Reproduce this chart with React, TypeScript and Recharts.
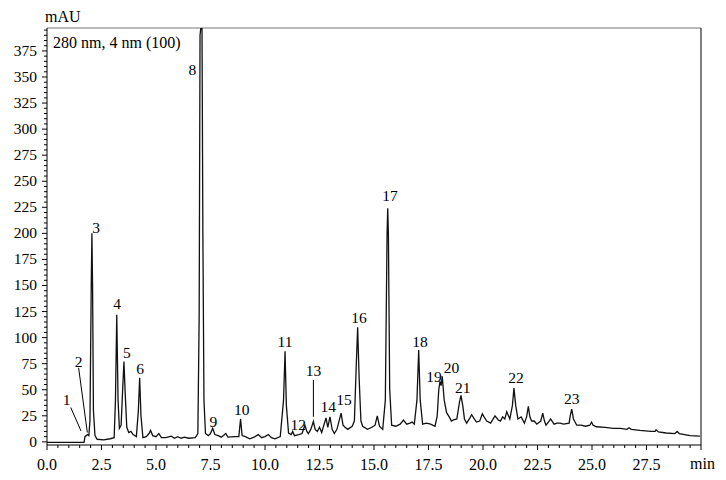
import { ComposedChart, Line, Scatter, XAxis, YAxis, ReferenceLine } from "recharts";

// retention time (min) and absorbance (mAU)
const times = [
  0.0, 1.7, 1.74, 1.8, 1.86, 1.92, 1.97, 2.03, 2.06, 2.09, 2.13, 2.2, 2.3, 2.6, 2.9, 3.08, 3.14, 3.2, 3.26, 3.32,
  3.4, 3.47, 3.53, 3.59, 3.66, 3.75, 3.85, 3.95, 4.1, 4.19, 4.25, 4.31, 4.4, 4.55, 4.68, 4.75, 4.85, 5.0, 5.13, 5.25,
  5.45, 5.7, 5.85, 6.0, 6.15, 6.3, 6.5, 6.8, 6.92, 6.98, 7.02, 7.06, 7.11, 7.15, 7.2, 7.27, 7.4, 7.5, 7.6, 7.7,
  7.85, 8.0, 8.2, 8.3, 8.6, 8.8, 8.88, 8.95, 9.1, 9.3, 9.5, 9.69, 9.85, 10.0, 10.15, 10.3, 10.45, 10.7, 10.85, 10.92,
  10.98, 11.08, 11.2, 11.27, 11.35, 11.55, 11.7, 11.83, 11.92, 11.99, 12.1, 12.22, 12.3, 12.4, 12.5, 12.6, 12.8, 12.88, 12.98, 13.08,
  13.18, 13.3, 13.49, 13.58, 13.67, 13.8, 14.0, 14.1, 14.18, 14.25, 14.32, 14.4, 14.48, 14.7, 14.9, 15.05, 15.15, 15.25, 15.4, 15.52,
  15.6, 15.63, 15.66, 15.72, 15.81, 16.0, 16.2, 16.35, 16.5, 16.65, 16.75, 16.85, 16.97, 17.05, 17.12, 17.23, 17.4, 17.6, 17.8, 17.9,
  17.97, 18.03, 18.08, 18.13, 18.22, 18.33, 18.45, 18.55, 18.65, 18.8, 18.92, 18.99, 19.07, 19.15, 19.25, 19.4, 19.48, 19.6, 19.7, 19.85,
  19.97, 20.05, 20.17, 20.35, 20.55, 20.7, 20.8, 20.9, 21.0, 21.09, 21.23, 21.35, 21.42, 21.5, 21.6, 21.75, 21.9, 22.0, 22.08, 22.15,
  22.23, 22.35, 22.47, 22.65, 22.74, 22.82, 22.89, 23.0, 23.1, 23.26, 23.4, 23.53, 23.7, 23.95, 24.0, 24.07, 24.15, 24.3, 24.5, 24.7,
  24.9, 24.98, 25.05, 25.2, 25.6, 25.98, 26.3, 26.6, 26.7, 26.8, 27.2, 27.7, 27.9, 27.94, 28.05, 28.4, 28.8, 28.91, 29.0, 29.5,
  29.95,
];
const mau = [
  -0.5, -0.5, 5, 6, 7, 6, 20, 150, 200, 150, 30, 6, 2.5, 2, 3, 4, 40, 122, 40, 13,
  16, 50, 77, 45, 14, 9, 10, 7, 5, 30, 61.5, 25, 4, 5, 8, 11, 6, 5, 8, 4,
  4, 5.5, 3.5, 5, 3.5, 4.5, 3.5, 4, 8, 120, 390, 398, 398, 200, 40, 8, 6, 8, 13, 7,
  6, 4.5, 8, 4.5, 5, 5, 22, 6, 5, 3, 4.5, 7, 4, 5, 7, 4, 3, 5, 40, 87,
  35, 8.5, 7, 10, 6, 7, 8, 16, 10, 8, 12, 19.5, 12, 10, 14, 9, 23, 14, 24, 12,
  8, 12, 27.5, 16, 14, 12, 15, 20, 70, 110, 60, 20, 15, 12, 14, 16, 25, 15, 12, 40,
  200, 224, 200, 50, 16, 15, 17, 21, 17, 18, 19, 17, 40, 88, 40, 17, 18, 17, 15, 25,
  50, 58, 54, 63, 40, 28, 24, 20, 21, 22, 38, 44.5, 35, 22, 18, 23, 26, 22, 19, 20,
  27, 24, 20, 18, 25, 21, 20, 24, 22, 29, 22, 35, 51.6, 35, 22, 24, 18, 24, 34, 24,
  20, 20, 17, 20, 27.6, 20, 16, 19, 22, 17, 18, 18, 17, 18, 25, 31.4, 22, 16, 16, 15,
  16, 19, 16, 14.5, 14, 13, 13, 12, 13.5, 12, 11, 10, 10, 11.5, 9.5, 8.5, 8, 10, 8, 6,
  5.5,
];

// peak numbers and where their labels sit
const peakNames = ["1", "2", "3", "4", "5", "6", "8", "9", "10", "11", "12", "13", "14", "15", "16", "17", "18", "19", "20", "21", "22", "23"];
const peakLabelT = [0.9, 1.45, 2.25, 3.22, 3.66, 4.27, 6.67, 7.63, 8.93, 10.92, 11.53, 12.22, 12.9, 13.62, 14.31, 15.73, 17.11, 17.75, 18.56, 19.07, 21.51, 24.07];
const peakLabelV = [40, 77, 205, 132, 85, 70, 357, 19, 31, 96, 16, 68, 33, 40, 119, 236, 96, 62, 71, 52, 61, 41];

const xMajor = [0, 2.5, 5, 7.5, 10, 12.5, 15, 17.5, 20, 22.5, 25, 27.5];
const yMajor = [0, 25, 50, 75, 100, 125, 150, 175, 200, 225, 250, 275, 300, 325, 350, 375];

const xTicks = Array.from({ length: 61 }, (_, i) => i * 0.5);
const yTicks = Array.from({ length: 80 }, (_, i) => i * 5);

const traceData = times.map((t, i) => ({ t, v: mau[i] }));
const labelData = peakNames.map((name, i) => ({ t: peakLabelT[i], v: peakLabelV[i], name }));

const FONT = "'Liberation Serif', 'Times New Roman', serif";

function renderXTick(props: any) {
  const { x, y, payload } = props;
  const val = payload.value;
  const major = xMajor.includes(val) || val === 30;
  return (
    <g key={`xt-${val}`}>
      <line x1={x} x2={x} y1={y} y2={y + (major ? 5 : 3)} stroke="#000" />
      {xMajor.includes(val) && (
        <text x={x} y={y + 25} textAnchor="middle" fontSize={16} fontFamily={FONT} fill="#000">
          {val.toFixed(1)}
        </text>
      )}
    </g>
  );
}

function renderYTick(props: any) {
  const { x, y, payload } = props;
  const major = yMajor.includes(payload.value);
  return (
    <g key={`yt-${payload.value}`}>
      <line x1={x - (major ? 5 : 3)} x2={x} y1={y} y2={y} stroke="#000" />
      {major && (
        <text x={x - 10} y={y + 5} textAnchor="end" fontSize={15.5} fontFamily={FONT} fill="#000">
          {payload.value}
        </text>
      )}
    </g>
  );
}

export default function App() {
  return (
    <div style={{ position: "absolute", left: 0, top: 0, width: 726, height: 480, background: "#fff", fontFamily: FONT }}>
      <ComposedChart width={726} height={480} margin={{ top: 28, right: 25, bottom: 5, left: 7 }}>
        <XAxis
          type="number"
          dataKey="t"
          domain={[0, 30]}
          ticks={xTicks}
          interval={0}
          height={30}
          tickSize={0}
          tickMargin={0}
          tickLine={false}
          tick={renderXTick}
          axisLine={{ stroke: "#000" }}
          allowDataOverflow
        />
        <YAxis
          type="number"
          dataKey="v"
          domain={[-3, 397]}
          ticks={yTicks}
          interval={0}
          width={40}
          tickSize={0}
          tickMargin={0}
          tickLine={false}
          tick={renderYTick}
          axisLine={{ stroke: "#000" }}
          allowDataOverflow
        />
        <ReferenceLine y={397} stroke="#777" />
        <ReferenceLine x={30} stroke="#000" />
        <ReferenceLine segment={[{ x: 1.09, y: 33 }, { x: 1.56, y: 10.5 }]} stroke="#000" />
        <ReferenceLine segment={[{ x: 1.45, y: 71 }, { x: 1.85, y: 9 }]} stroke="#000" />
        <ReferenceLine segment={[{ x: 12.22, y: 59.5 }, { x: 12.22, y: 24 }]} stroke="#000" />
        <Line data={traceData} dataKey="v" stroke="#111" strokeWidth={1.3} dot={false} isAnimationActive={false} />
        <Scatter
          data={labelData}
          dataKey="v"
          isAnimationActive={false}
          shape={(p: any) => (
            <text x={p.cx} y={p.cy + 5} textAnchor="middle" fontSize={15.5} fontFamily={FONT} fill="#000">
              {p.payload.name}
            </text>
          )}
        />
      </ComposedChart>
      <div style={{ position: "absolute", left: 45, top: 7, fontSize: 16, lineHeight: "20px" }}>mAU</div>
      <div style={{ position: "absolute", left: 53, top: 33, fontSize: 16, lineHeight: "20px" }}>280 nm, 4 nm (100)</div>
      <div style={{ position: "absolute", left: 690, top: 454, fontSize: 16, lineHeight: "20px" }}>min</div>
    </div>
  );
}
